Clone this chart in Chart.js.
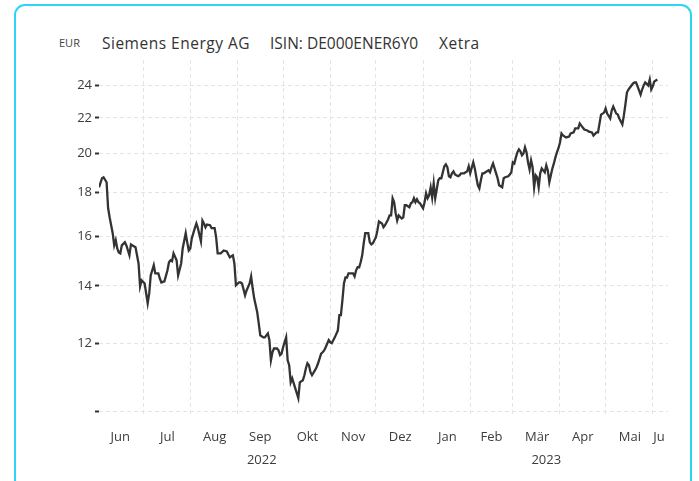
<!DOCTYPE html>
<html>
<head>
<meta charset="utf-8">
<script src="https://cdn.jsdelivr.net/npm/chart.js"></script>
<style>
  html, body { margin: 0; padding: 0; background: #fff; }
  body { width: 699px; height: 481px; position: relative; overflow: hidden; font-family: 'Open Sans', sans-serif; }
  .card {
    position: absolute; left: 14px; top: 4px; width: 674px; height: 520px;
    border: 2px solid #2fd3f3; border-radius: 11px; box-sizing: content-box;
  }
  .head span { position: absolute; white-space: nowrap; color: #333; }
  .head .cur { left: 59px; top: 36px; font-size: 11px; line-height: 14px; color: #444; }
  .head .t { top: 33px; font-size: 15.5px; line-height: 20px; letter-spacing: 0.5px; }
  .head .isin { letter-spacing: 0; }
  canvas { position: absolute; left: 0; top: 0; }
</style>
</head>
<body>
<div class="card"></div>
<div class="head">
  <span class="cur">EUR</span>
  <span class="t" style="left:102px">Siemens Energy AG</span>
  <span class="t isin" style="left:270px">ISIN: DE000ENER6Y0</span>
  <span class="t" style="left:439px">Xetra</span>
</div>
<canvas id="priceChart" width="699" height="481"></canvas>
<script>
// days counted from startDate, prices in EUR
const startDate = '2022-06-01';
const viewEnd = '2023-06-11';

const dayOffsets = [
  1, 3, 4, 6, 7, 8, 10, 11, 12, 13, 14, 15, 16, 18, 19, 21, 22, 23, 25, 27,
  28, 29, 31, 33, 34, 35, 37, 38, 40, 41, 42, 44, 46, 47, 48, 49, 50, 52, 53, 55,
  56, 58, 59, 60, 61, 62, 64, 65, 66, 68, 69, 70, 71, 72, 74, 75, 77, 78, 79, 81,
  83, 85, 86, 87, 89, 90, 91, 93, 94, 95, 97, 98, 100, 101, 102, 103, 105, 106, 107, 109,
  110, 112, 113, 114, 115, 116, 118, 119, 120, 121, 122, 124, 125, 126, 127, 128, 129, 131, 132, 133,
  135, 136, 137, 138, 139, 140, 141, 143, 144, 145, 147, 148, 149, 150, 152, 153, 154, 156, 158, 159,
  160, 161, 162, 163, 164, 165, 166, 168, 169, 170, 171, 172, 173, 174, 175, 176, 178, 179, 180, 181,
  182, 183, 184, 185, 187, 188, 189, 191, 192, 193, 194, 195, 196, 197, 198, 200, 201, 202, 203, 205,
  206, 207, 208, 209, 210, 211, 212, 214, 215, 216, 217, 218, 219, 220, 221, 222, 224, 225, 226, 228,
  229, 230, 231, 232, 233, 234, 235, 237, 238, 239, 241, 242, 243, 244, 245, 247, 248, 249, 250, 251,
  252, 253, 254, 255, 257, 258, 259, 260, 261, 262, 263, 264, 266, 267, 268, 270, 271, 272, 273, 274,
  275, 276, 277, 278, 279, 280, 281, 282, 283, 284, 285, 286, 287, 288, 289, 290, 291, 292, 293, 294,
  295, 296, 297, 298, 299, 300, 301, 302, 303, 304, 305, 306, 308, 310, 311, 313, 314, 316, 317, 319,
  320, 322, 323, 325, 326, 328, 329, 330, 331, 333, 334, 335, 337, 338, 339, 341, 342, 343, 345, 346,
  347, 348, 349, 350, 352, 353, 354, 355, 357, 358, 359, 360, 362, 363, 364, 365, 366, 368,
];

const prices = [
  18.25, 18.70, 18.75, 18.50, 17.25, 16.83, 16.13, 15.61, 15.83, 15.48, 15.32, 15.28, 15.61, 15.74, 15.61, 15.20, 15.65, 15.61, 15.53, 14.87,
  13.98, 14.21, 14.09, 13.36, 13.72, 14.40, 14.80, 14.48, 14.48, 14.28, 14.13, 14.17, 14.60, 14.92, 15.00, 14.96, 15.28, 15.00, 14.40, 14.87,
  15.48, 16.13, 15.74, 15.40, 15.48, 15.91, 16.35, 16.56, 16.35, 15.78, 16.69, 16.56, 16.39, 16.51, 16.48, 16.35, 16.35, 15.95, 15.28, 15.28,
  15.40, 15.36, 15.23, 15.12, 15.20, 14.87, 14.02, 14.13, 14.13, 14.09, 13.65, 13.83, 14.09, 14.36, 13.91, 13.54, 13.04, 12.66, 12.26, 12.19,
  12.19, 12.32, 12.10, 11.46, 11.71, 11.83, 11.83, 11.77, 11.62, 11.67, 11.87, 12.19, 11.46, 11.31, 10.80, 10.92, 10.77, 10.49, 10.35, 10.80,
  10.86, 11.01, 11.22, 11.37, 11.31, 11.10, 11.01, 11.16, 11.25, 11.37, 11.67, 11.71, 11.77, 11.87, 12.10, 12.03, 12.00, 12.19, 12.42, 12.94,
  12.94, 13.47, 14.09, 14.32, 14.32, 14.48, 14.48, 14.48, 14.36, 14.60, 14.72, 14.72, 14.92, 15.20, 15.70, 16.13, 16.13, 15.74, 15.65, 15.70,
  15.83, 15.95, 16.26, 16.65, 16.56, 16.39, 16.48, 16.74, 16.92, 16.92, 17.72, 17.53, 17.02, 16.69, 16.92, 16.78, 16.83, 17.39, 17.39, 17.30,
  17.48, 17.53, 17.72, 17.53, 17.67, 17.53, 17.48, 17.25, 17.53, 17.96, 17.72, 17.86, 18.25, 17.76, 18.45, 17.72, 18.60, 18.70, 18.70, 19.31,
  19.41, 19.26, 18.80, 18.75, 18.95, 19.05, 18.89, 18.80, 18.85, 18.95, 18.95, 19.00, 19.05, 19.31, 18.95, 19.52, 19.20, 18.75, 18.35, 18.20,
  18.60, 18.95, 18.95, 19.00, 19.10, 19.00, 19.26, 19.46, 19.20, 18.95, 18.70, 18.35, 18.25, 18.70, 18.75, 18.80, 18.89, 19.00, 19.52, 19.46,
  19.78, 20.05, 20.21, 20.10, 19.89, 19.99, 20.32, 20.05, 19.52, 19.15, 19.62, 19.26, 18.25, 18.85, 18.75, 18.25, 18.95, 19.20, 19.10, 19.00,
  19.36, 19.10, 18.50, 18.85, 19.20, 19.46, 19.78, 20.05, 20.27, 20.59, 21.09, 20.98, 20.87, 20.92, 21.09, 21.15, 21.38, 21.38, 21.67, 21.43,
  21.32, 21.26, 21.20, 21.15, 20.98, 21.15, 21.15, 21.67, 22.19, 22.31, 22.56, 22.25, 21.96, 22.44, 22.68, 22.25, 22.19, 21.96, 21.61, 22.14,
  22.80, 23.55, 23.74, 23.87, 24.13, 24.19, 24.19, 23.94, 23.42, 23.74, 24.00, 24.19, 24.00, 24.39, 23.74, 23.94, 24.26, 24.39,
];

const monthLabels = ['Jun', 'Jul', 'Aug', 'Sep', 'Okt', 'Nov', 'Dez', 'Jan', 'Feb', 'Mär', 'Apr', 'Mai', 'Ju'];
const yearLabels = ['2022', '2023'];
const yTicks = [10, 12, 14, 16, 18, 20, 22, 24];
const yMin = 9.84;
const yMax = 25.7;

const DAY = 86400000;
const t0 = Date.parse(startDate);
const dayOf = (y, m, d) => Math.round((Date.UTC(y, m, d) - t0) / DAY);
const xMin = dayOffsets[0];
const xMax = Math.round((Date.parse(viewEnd) - t0) / DAY);

// month starts get a grid line, month middles get the label
const gridDays = [];
const monthLabelAt = {};
for (let i = 0; i < monthLabels.length; i++) {
  const start = dayOf(2022, 5 + i, 1);
  const end = dayOf(2022, 6 + i, 1);
  if (start > xMin) gridDays.push(start);
  let mid = Math.round((start + end) / 2);
  mid = Math.min(mid, xMax - 6);
  monthLabelAt[mid] = monthLabels[i];
}

const yearLabelAt = {};
yearLabels.forEach((yr) => {
  const a = Math.max(xMin, dayOf(+yr, 0, 1));
  const b = Math.min(xMax, dayOf(+yr + 1, 0, 1));
  yearLabelAt[Math.round((a + b) / 2)] = yr;
});

const gridColor = '#e4e4e4';
const textColor = '#3c3c3c';
const tickFont = { family: "'Open Sans', sans-serif", size: 13 };

const ctx = document.getElementById('priceChart').getContext('2d');

window.priceChart = new Chart(ctx, {
  type: 'line',
  data: {
    datasets: [
      {
        data: dayOffsets.map((d, i) => ({ x: d, y: prices[i] })),
        borderColor: '#333',
        borderWidth: 2.3,
        pointRadius: 0,
        tension: 0,
        fill: false,
      },
    ],
  },
  options: {
    responsive: false,
    animation: false,
    layout: { padding: { left: 40, right: 31, top: 60, bottom: 8 } },
    plugins: {
      legend: { display: false },
      tooltip: { enabled: false },
    },
    scales: {
      x: {
        type: 'linear',
        position: 'bottom',
        weight: 0,
        min: xMin,
        max: xMax,
        bounds: 'data',
        afterBuildTicks: (scale) => {
          const vals = gridDays.concat(Object.keys(monthLabelAt).map(Number));
          scale.ticks = vals.sort((a, b) => a - b).map((v) => ({ value: v }));
        },
        afterFit: (scale) => { scale.height = 30; },
        grid: {
          drawTicks: false,
          color: (c) => (c.tick && monthLabelAt[c.tick.value] === undefined ? gridColor : 'rgba(0,0,0,0)'),
          lineWidth: 1,
        },
        border: { display: false, dash: [4, 3] },
        ticks: {
          autoSkip: false,
          maxRotation: 0,
          minRotation: 0,
          padding: 12,
          color: textColor,
          font: tickFont,
          callback: (v) => monthLabelAt[v] || '',
        },
      },
      x2: {
        type: 'linear',
        position: 'bottom',
        weight: 1,
        min: xMin,
        max: xMax,
        bounds: 'data',
        afterBuildTicks: (scale) => {
          scale.ticks = Object.keys(yearLabelAt).map((v) => ({ value: Number(v) }));
        },
        afterFit: (scale) => { scale.height = 26; },
        grid: { display: false, drawTicks: false },
        border: { display: false },
        ticks: {
          autoSkip: false,
          maxRotation: 0,
          padding: 5,
          color: textColor,
          font: tickFont,
          callback: (v) => yearLabelAt[v] || '',
        },
      },
      y: {
        type: 'logarithmic',
        min: yMin,
        max: yMax,
        bounds: 'data',
        afterBuildTicks: (scale) => {
          scale.ticks = yTicks.map((v) => ({ value: v }));
        },
        afterFit: (scale) => { scale.width = 59; },
        grid: {
          color: gridColor,
          lineWidth: 1,
          tickLength: 4,
          tickColor: '#333',
          tickWidth: 2,
          tickBorderDash: [],
        },
        border: { display: false, dash: [4, 3] },
        ticks: {
          autoSkip: false,
          padding: 3,
          color: textColor,
          font: tickFont,
          callback: (v) => (v === yTicks[0] ? '' : String(v)),
        },
      },
    },
  },
});
</script>
</body>
</html>
